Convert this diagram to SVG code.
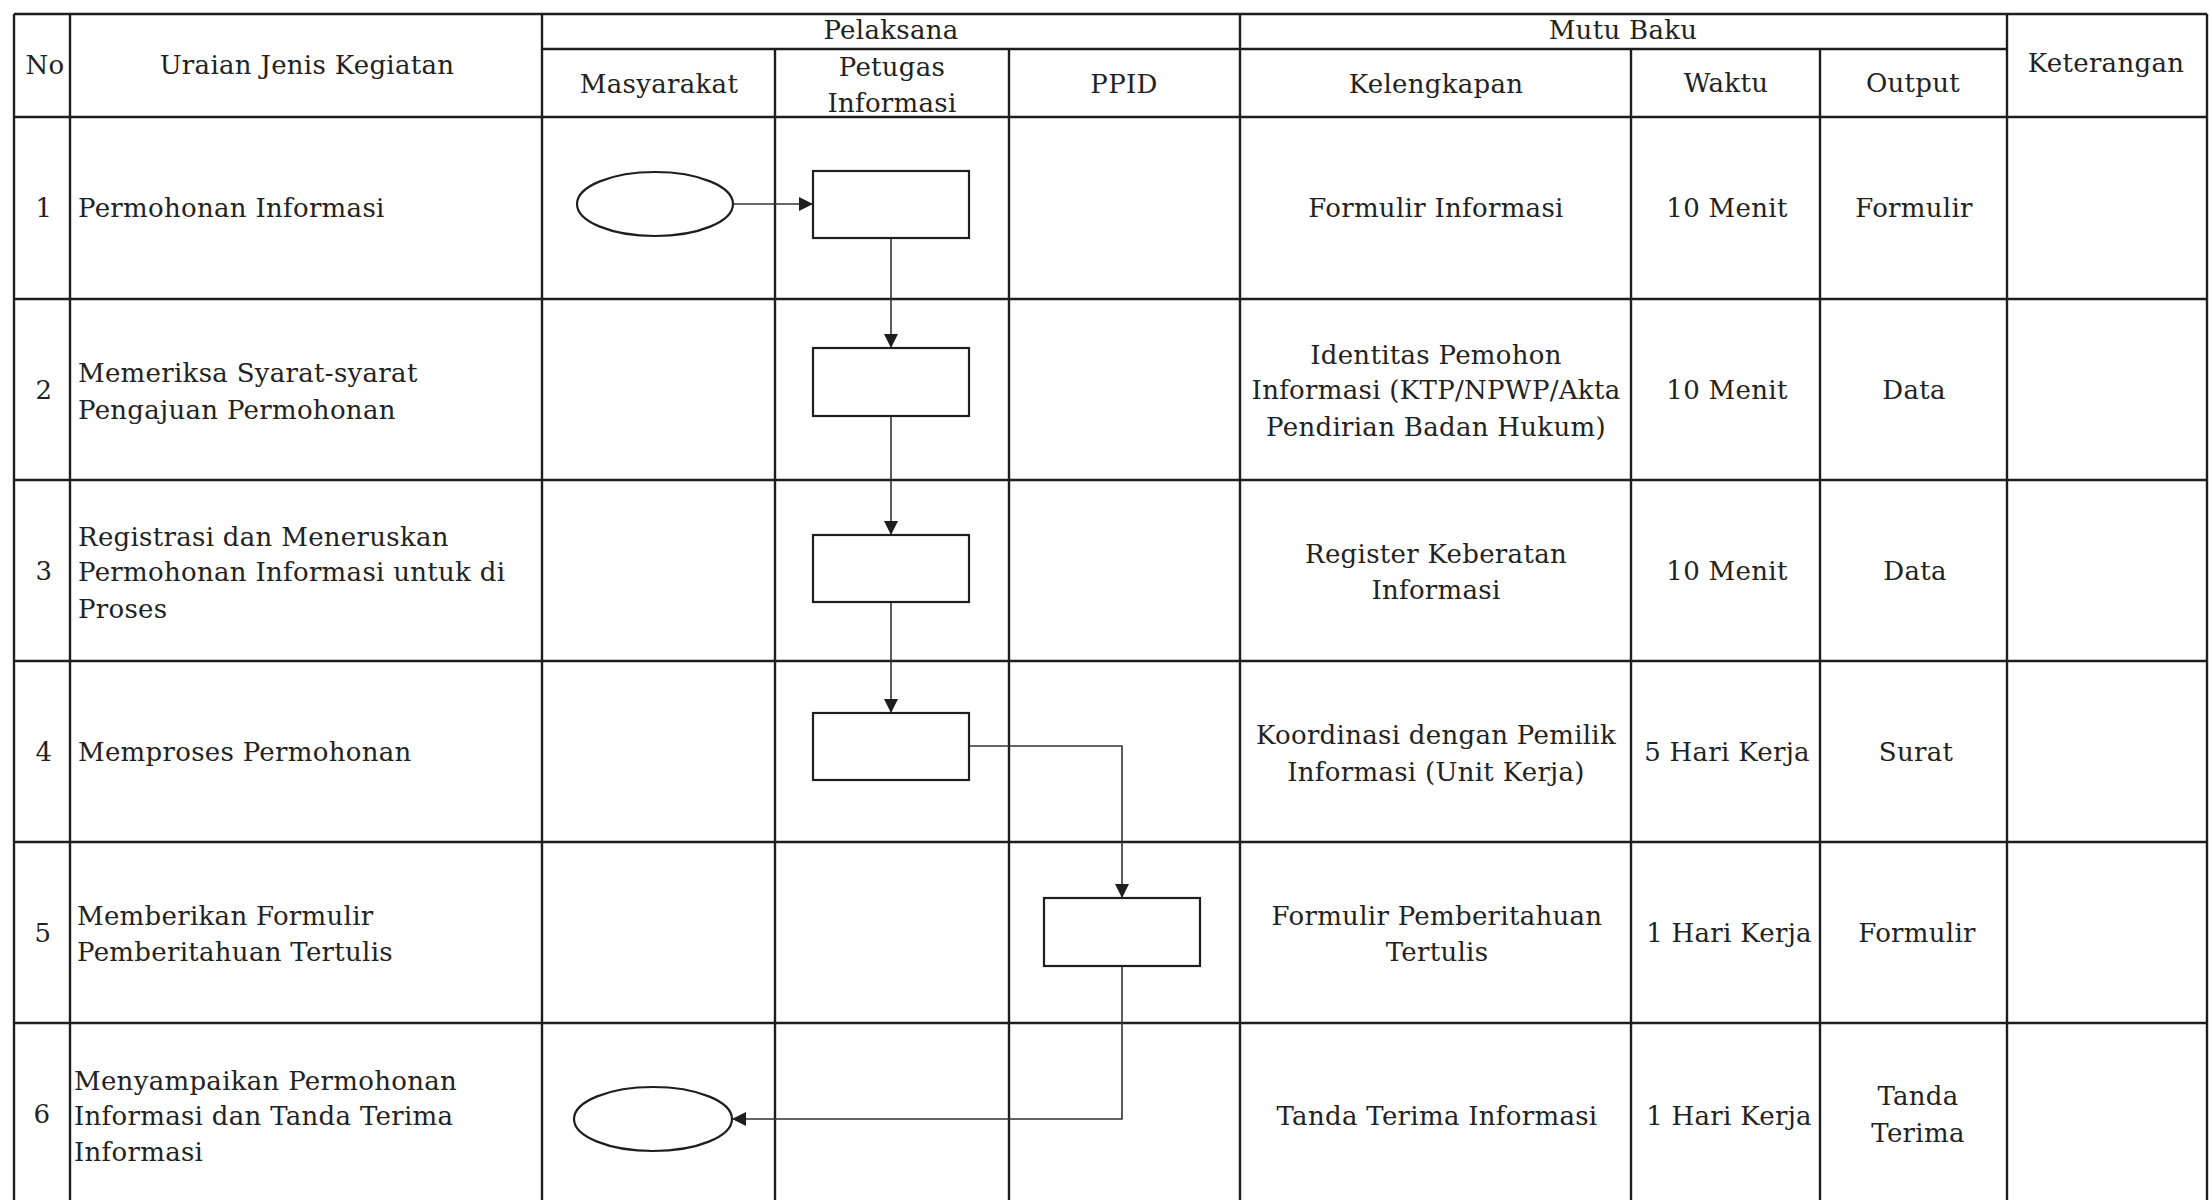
<svg xmlns="http://www.w3.org/2000/svg" width="2209" height="1200" viewBox="0 0 2209 1200">
<style>
.grid line{stroke:#1e1e1e;stroke-width:2.4}
text{font-family:"DejaVu Serif","Liberation Serif",serif;font-size:26px;letter-spacing:0.3px;fill:#222}
.c{text-anchor:middle}
.shape{fill:#fff;stroke:#1e1e1e;stroke-width:2.2}
.conn{fill:none;stroke:#333;stroke-width:1.6}
</style>
<defs>
<marker id="arr" viewBox="0 0 10 10" refX="10" refY="5" markerWidth="14" markerHeight="14" markerUnits="userSpaceOnUse" orient="auto">
<path d="M0,0 L10,5 L0,10 z" fill="#1e1e1e"/>
</marker>
</defs>
<rect width="2209" height="1200" fill="#fff"/>
<g class="grid">
<line x1="14" y1="14" x2="2207" y2="14"/>
<line x1="542" y1="49" x2="2007" y2="49"/>
<line x1="14" y1="117" x2="2207" y2="117"/>
<line x1="14" y1="299" x2="2207" y2="299"/>
<line x1="14" y1="480" x2="2207" y2="480"/>
<line x1="14" y1="661" x2="2207" y2="661"/>
<line x1="14" y1="842" x2="2207" y2="842"/>
<line x1="14" y1="1023" x2="2207" y2="1023"/>
<line x1="14" y1="14" x2="14" y2="1200"/>
<line x1="70" y1="14" x2="70" y2="1200"/>
<line x1="542" y1="14" x2="542" y2="1200"/>
<line x1="775" y1="49" x2="775" y2="1200"/>
<line x1="1009" y1="49" x2="1009" y2="1200"/>
<line x1="1240" y1="14" x2="1240" y2="1200"/>
<line x1="1631" y1="49" x2="1631" y2="1200"/>
<line x1="1820" y1="49" x2="1820" y2="1200"/>
<line x1="2007" y1="14" x2="2007" y2="1200"/>
<line x1="2207" y1="14" x2="2207" y2="1200"/>
</g>
<g id="header">
<text class="c" x="45" y="74">No</text>
<text class="c" x="307" y="74">Uraian Jenis Kegiatan</text>
<text class="c" x="891" y="39">Pelaksana</text>
<text class="c" x="1623" y="39">Mutu Baku</text>
<text class="c" x="659" y="93">Masyarakat</text>
<text class="c" x="892" y="76">Petugas</text>
<text class="c" x="892" y="112">Informasi</text>
<text class="c" x="1124" y="93">PPID</text>
<text class="c" x="1436" y="93">Kelengkapan</text>
<text class="c" x="1726" y="92">Waktu</text>
<text class="c" x="1913" y="92">Output</text>
<text class="c" x="2106" y="72">Keterangan</text>
</g>
<g id="row1">
<text class="c" x="44" y="217">1</text>
<text x="78" y="217">Permohonan Informasi</text>
<text class="c" x="1436" y="217">Formulir Informasi</text>
<text class="c" x="1727" y="217">10 Menit</text>
<text class="c" x="1914" y="217">Formulir</text>
</g>
<g id="row2">
<text class="c" x="44" y="399">2</text>
<text x="78" y="382">Memeriksa Syarat-syarat</text>
<text x="78" y="419">Pengajuan Permohonan</text>
<text class="c" x="1436" y="364">Identitas Pemohon</text>
<text class="c" x="1436" y="399">Informasi (KTP/NPWP/Akta</text>
<text class="c" x="1436" y="436">Pendirian Badan Hukum)</text>
<text class="c" x="1727" y="399">10 Menit</text>
<text class="c" x="1914" y="399">Data</text>
</g>
<g id="row3">
<text class="c" x="44" y="580">3</text>
<text x="78" y="546">Registrasi dan Meneruskan</text>
<text x="78" y="581">Permohonan Informasi untuk di</text>
<text x="78" y="618">Proses</text>
<text class="c" x="1436" y="563">Register Keberatan</text>
<text class="c" x="1436" y="599">Informasi</text>
<text class="c" x="1727" y="580">10 Menit</text>
<text class="c" x="1915" y="580">Data</text>
</g>
<g id="row4">
<text class="c" x="44" y="761">4</text>
<text x="78" y="761">Memproses Permohonan</text>
<text class="c" x="1436" y="744">Koordinasi dengan Pemilik</text>
<text class="c" x="1436" y="781">Informasi (Unit Kerja)</text>
<text class="c" x="1727" y="761">5 Hari Kerja</text>
<text class="c" x="1916" y="761">Surat</text>
</g>
<g id="row5">
<text class="c" x="43" y="942">5</text>
<text x="77" y="925">Memberikan Formulir</text>
<text x="77" y="961">Pemberitahuan Tertulis</text>
<text class="c" x="1437" y="925">Formulir Pemberitahuan</text>
<text class="c" x="1437" y="961">Tertulis</text>
<text class="c" x="1729" y="942">1 Hari Kerja</text>
<text class="c" x="1917" y="942">Formulir</text>
</g>
<g id="row6">
<text class="c" x="42" y="1123">6</text>
<text x="74" y="1090">Menyampaikan Permohonan</text>
<text x="74" y="1125">Informasi dan Tanda Terima</text>
<text x="74" y="1161">Informasi</text>
<text class="c" x="1437" y="1125">Tanda Terima Informasi</text>
<text class="c" x="1729" y="1125">1 Hari Kerja</text>
<text class="c" x="1918" y="1105">Tanda</text>
<text class="c" x="1918" y="1142">Terima</text>
</g>
<g id="connectors">
<line class="conn" x1="733" y1="204" x2="813" y2="204" marker-end="url(#arr)"/>
<line class="conn" x1="891" y1="238" x2="891" y2="348" marker-end="url(#arr)"/>
<line class="conn" x1="891" y1="416" x2="891" y2="535" marker-end="url(#arr)"/>
<line class="conn" x1="891" y1="602" x2="891" y2="713" marker-end="url(#arr)"/>
<polyline class="conn" points="969,746 1122,746 1122,898" marker-end="url(#arr)"/>
<polyline class="conn" points="1122,966 1122,1119 732,1119" marker-end="url(#arr)"/>
</g>
<g id="start"><ellipse class="shape" cx="655" cy="204" rx="78" ry="32"/></g>
<g id="step1"><rect class="shape" x="813" y="171" width="156" height="67"/></g>
<g id="step2"><rect class="shape" x="813" y="348" width="156" height="68"/></g>
<g id="step3"><rect class="shape" x="813" y="535" width="156" height="67"/></g>
<g id="step4"><rect class="shape" x="813" y="713" width="156" height="67"/></g>
<g id="step5"><rect class="shape" x="1044" y="898" width="156" height="68"/></g>
<g id="end"><ellipse class="shape" cx="653" cy="1119" rx="79" ry="32"/></g>
</svg>
